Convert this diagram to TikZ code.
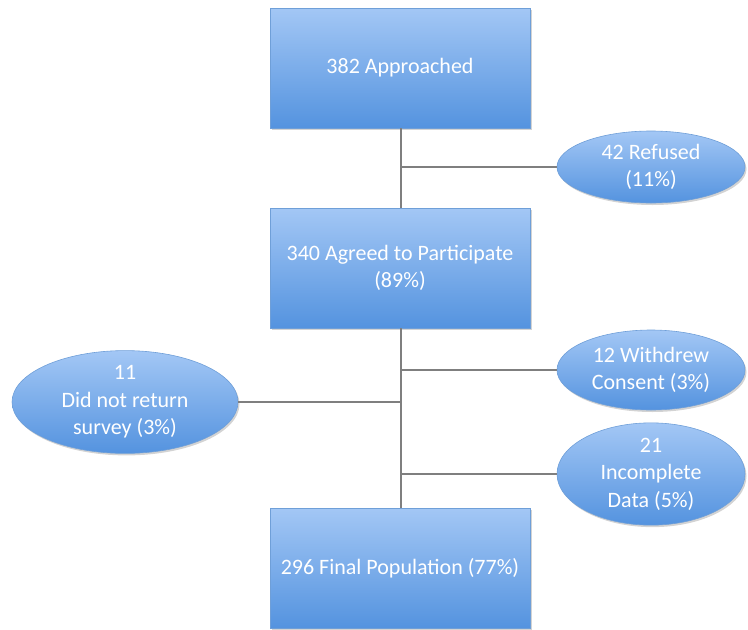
\documentclass[tikz,border=0pt]{standalone}
\usepackage{fontspec}
\setmainfont{Carlito}
\usetikzlibrary{shapes.geometric,shadows}
\definecolor{topblue}{HTML}{A3C7F5}
\definecolor{botblue}{HTML}{5493DF}
\definecolor{edgeblue}{HTML}{6F9FD8}
\definecolor{linegray}{HTML}{7F7F7F}
\tikzset{
  fillgrad/.style={top color=topblue, bottom color=botblue, draw=edgeblue, line width=0.6pt,
    drop shadow={opacity=0.35, shadow xshift=1.5pt, shadow yshift=-2pt}},
  stepbox/.style={fillgrad, rectangle, minimum width=260pt, minimum height=120pt,
    inner sep=0pt, align=center, text=white, font=\fontsize{22}{27.5}\selectfont},
  exitoval/.style={fillgrad, ellipse, inner sep=0pt, align=center, text=white,
    font=\fontsize{22}{27.5}\selectfont},
  conn/.style={draw=linegray, line width=2pt}
}
\begin{document}
\begin{tikzpicture}[x=1pt,y=-1pt]
\useasboundingbox (0,0) rectangle (748,630);
\coordinate (t1) at (401,167);
\coordinate (t2) at (401,370);
\coordinate (t3) at (401,402);
\coordinate (t4) at (401,474);
\node[stepbox] (b1) at (400,68) {382 Approached};
\node[stepbox] (b2) at (400,268) {340 Agreed to Participate\\(89\%)};
\node[stepbox] (b3) at (400,568) {296 Final Population (77\%)};
\node[exitoval, minimum width=188pt, minimum height=72pt] (e1) at (651,167) {42 Refused\\(11\%)};
\node[exitoval, minimum width=188pt, minimum height=80pt] (e2) at (651,370) {12 Withdrew\\Consent (3\%)};
\node[exitoval, minimum width=226pt, minimum height=76pt] (e3) at (125,402) {11\\Did not return\\survey (3\%)};
\node[exitoval, minimum width=188pt, minimum height=78pt] (e4) at (651,474) {21\\Incomplete\\Data (5\%)};
\draw[conn] (b1.south -| t1) -- (b2.north -| t1);
\draw[conn] (b2.south -| t1) -- (b3.north -| t1);
\draw[conn] (t1) -- (e1.west);
\draw[conn] (t2) -- (e2.west);
\draw[conn] (t3) -- (e3.east);
\draw[conn] (t4) -- (e4.west);
\end{tikzpicture}
\end{document}
